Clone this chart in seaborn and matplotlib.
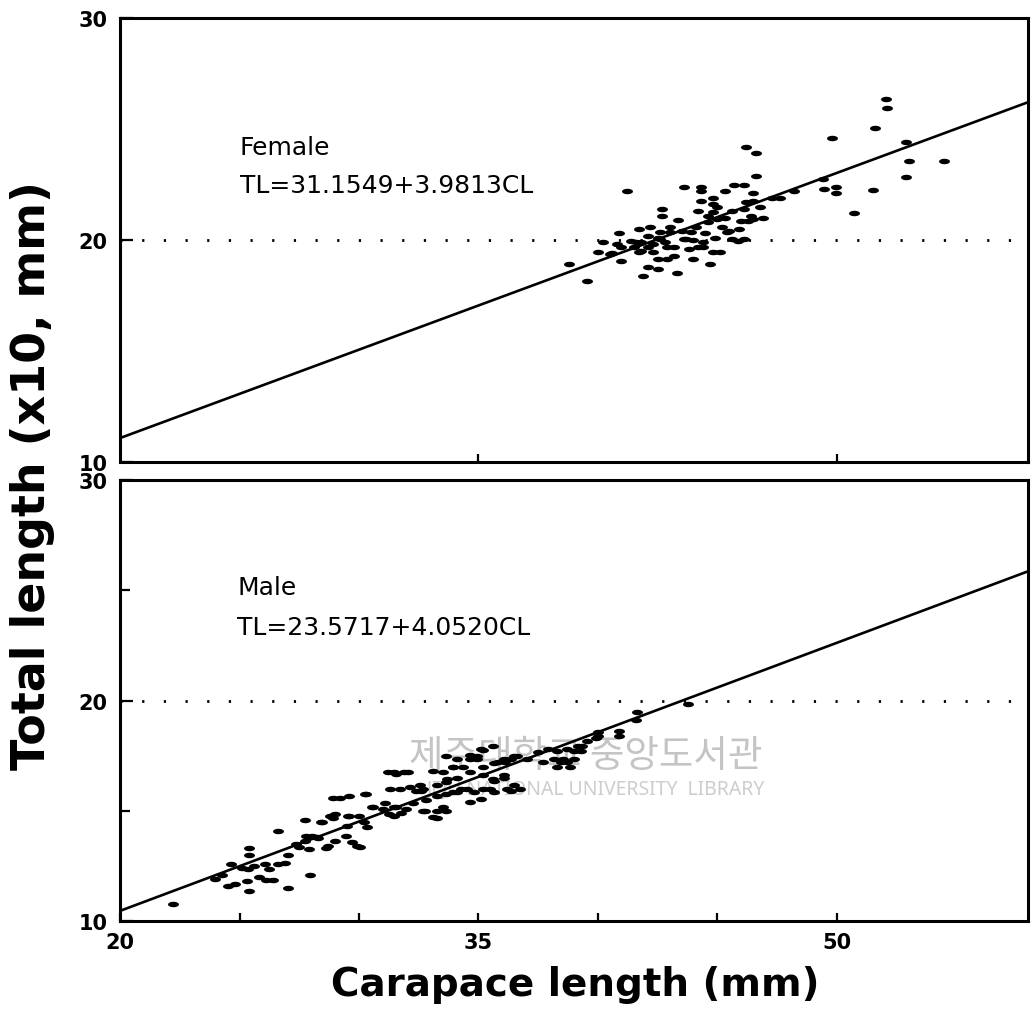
import numpy as np
import pandas as pd
import matplotlib
matplotlib.use("Agg")
import matplotlib.pyplot as plt
import seaborn as sns
from matplotlib.path import Path
from matplotlib.ticker import FixedLocator

# ---------------- data ----------------
female_cl = [52.05, 52.1, 51.6, 49.8, 46.2, 46.6, 52.9, 53.0, 52.9, 54.5,
             46.6, 49.4, 49.45, 49.95, 49.95, 51.5, 50.7, 48.2, 47.6, 41.2,
             43.6, 44.3, 44.3, 44.3, 44.8, 44.8, 45.3, 45.7, 46.1, 46.5,
             46.5, 46.1, 46.4, 46.9, 42.7, 42.7, 43.35, 41.7, 42.2, 42.1,
             42.6, 40.9, 40.8, 40.0, 40.6, 40.95, 38.8, 39.55, 41.6, 42.1,
             41.7, 42.5, 42.9, 42.3, 42.5, 42.9, 42.1, 42.5, 41.9, 43.3,
             43.2, 43.2, 43.7, 44.0, 44.2, 44.4, 44.0, 44.5, 44.4, 44.8,
             44.7, 45.1, 44.8, 45.0, 45.2, 45.4, 45.6, 45.85, 46.1, 45.9,
             46.0, 46.3, 46.5, 45.0, 44.6, 43.9, 43.6, 43.0, 42.6, 42.3,
             41.8, 41.8, 41.4, 40.95, 40.5, 40.2,
             43.0, 43.5, 44.1, 44.6, 45.3, 45.6, 46.2, 44.9, 43.8, 42.8,
             41.5, 46.8, 47.3, 45.5, 44.2]
female_tl = [26.35, 25.95, 25.05, 24.6, 24.2, 23.9, 24.4, 23.55, 22.85, 23.55,
             22.9, 22.75, 22.3, 22.4, 22.1, 22.25, 21.2, 22.2, 21.9, 22.2,
             22.4, 22.4, 22.2, 21.75, 21.9, 21.6, 22.2, 22.5, 22.5, 22.1,
             21.75, 21.4, 21.1, 21.0, 21.4, 21.1, 20.9, 20.5, 20.6, 20.2,
             20.35, 20.3, 19.8, 19.45, 19.4, 19.05, 18.9, 18.15, 19.9, 19.7,
             19.45, 20.1, 19.7, 19.45, 19.15, 19.15, 18.8, 18.7, 18.4, 18.5,
             19.7, 19.3, 20.05, 20.0, 19.7, 19.7, 19.15, 20.3, 19.9, 19.45,
             18.9, 19.45, 21.25, 20.95, 20.6, 20.35, 20.05, 19.95, 20.05, 20.5,
             20.85, 20.85, 20.95, 21.5, 21.1, 20.35, 20.05, 20.35, 20.05, 19.8,
             19.5, 19.9, 19.95, 19.7, 19.35, 19.9,
             20.6, 20.4, 20.6, 20.8, 21.0, 21.3, 21.7, 20.1, 19.6, 19.9,
             19.7, 21.5, 21.9, 20.4, 21.3]

male_cl = [22.2,
           23.96, 24.5, 24.8, 25.4, 25.3, 25.8, 26.1, 26.4, 27.05,
           24.25, 24.65, 25.1, 25.35, 25.6, 26.05, 26.25, 26.6, 26.9,
           25.4, 25.4, 26.6,
           27.05, 27.35, 27.5, 27.75, 27.9, 28.05, 28.3, 27.95,
           27.75, 28.45, 28.9, 29.0, 29.6, 30.0,
           28.9, 29.6, 30.3,
           28.6, 29.0, 29.45, 29.7, 30.05,
           30.55, 31.1, 31.55, 31.25, 31.75, 31.95,
           31.55, 32.05, 32.55, 32.7, 32.4,
           32.25, 32.8, 33.25, 33.65, 34.1,
           32.75, 33.25, 33.65, 33.25,
           33.65, 34.1, 34.35, 34.65, 34.95, 35.2,
           33.25, 33.65, 34.1, 34.65, 35.2, 35.65, 36.05, 36.5,
           34.5, 34.8, 35.2, 35.65, 36.05, 36.5, 36.75,
           35.65, 36.35,
           36.6, 37.05, 37.5, 37.9, 38.3, 38.7, 39.15, 39.55, 40.0,
           37.7, 38.15, 38.45, 39.0, 38.85, 39.3,
           34.65, 35.1, 34.95, 35.6, 35.8, 36.1, 36.35,
           35.2, 35.6, 36.05, 35.5, 36.2, 34.65, 35.1, 33.95, 33.7, 29.2,
           43.75, 41.65, 41.6, 40.9, 40.9, 40.0, 39.9, 39.35, 39.0, 38.55,
           38.3, 38.7,
           31.3, 31.7, 32.15, 32.6, 31.2, 31.45, 31.9, 30.6, 31.0, 31.45,
           31.45, 32.7, 33.1, 33.5, 33.1, 33.5, 33.95, 33.95, 34.25, 29.55,
           30.25, 28.4, 28.8, 29.9, 30.35, 29.5, 30.2, 28.7, 28.25, 27.8]
male_tl = [10.75,
           11.9, 11.6, 11.7, 11.35, 11.8, 12.0, 11.85, 11.85, 11.5,
           12.1, 12.6, 12.4, 12.35, 12.5, 12.6, 12.35, 12.6, 12.65,
           13.3, 13.0, 14.1,
           13.0, 13.5, 13.35, 13.65, 13.25, 13.85, 13.75, 12.1,
           14.6, 14.5, 14.65, 14.85, 14.75, 14.75,
           15.6, 15.65, 15.75,
           13.3, 13.65, 13.85, 13.6, 13.35,
           15.15, 15.35, 15.15, 14.85, 14.9, 15.1,
           16.65, 16.75, 16.15, 16.0, 15.9,
           15.35, 15.5, 15.65, 15.75, 15.85,
           15.0, 15.0, 15.0, 14.65,
           17.5, 17.35, 17.0, 17.35, 17.5, 17.75,
           16.15, 16.3, 16.5, 16.75, 17.0, 17.15, 17.35, 17.5,
           16.0, 15.85, 16.0, 16.35, 16.5, 16.15, 16.0,
           15.85, 15.9,
           17.5, 17.35, 17.65, 17.8, 17.7, 17.8, 17.95, 18.15, 18.4,
           17.2, 17.35, 17.2, 17.35, 17.0, 17.7,
           17.55, 17.8, 17.35, 17.95, 17.2, 17.2, 17.35,
           16.6, 16.45, 16.6, 16.0, 16.0, 15.4, 15.55, 17.0, 16.45, 15.6,
           19.85, 19.5, 19.1, 18.6, 18.4, 18.55, 18.3, 17.95, 17.7, 17.35,
           17.0, 17.2,
           16.0, 16.0, 16.1, 15.9, 16.75, 16.75, 16.75, 15.15, 15.1, 15.15,
           14.75, 15.0, 14.7, 15.15, 16.8, 16.75, 17.0, 15.85, 16.0, 14.75,
           15.75, 14.5, 14.75, 13.4, 14.25, 14.3, 14.5, 13.4, 13.8, 13.85]

female_coef = [31.1549, 3.9813]   # TL(mm) = a + b*CL
male_coef = [23.5717, 4.0520]
female_eq = "TL=31.1549+3.9813CL"
male_eq = "TL=23.5717+4.0520CL"

x_range = [20, 58]
y_range = [10, 30]
x_major = [20, 35, 50]
x_major_labels = ["20", "35", "50"]
x_minor = [25, 30, 40, 45]
top_x_ticks = [35, 50]
y_major = [10, 20, 30]
y_major_labels = ["10", "20", "30"]
y_minor = [15, 25]
ref_level = 20

# ---------------- style ----------------
sns.set_theme(style="ticks")
plt.rcParams["font.family"] = ["DejaVu Sans"]
plt.rcParams["text.color"] = "black"
plt.rcParams["axes.labelcolor"] = "black"
plt.rcParams["xtick.color"] = "black"
plt.rcParams["ytick.color"] = "black"
plt.rcParams["xtick.labelcolor"] = "black"
plt.rcParams["ytick.labelcolor"] = "black"

fig = plt.figure(figsize=(10.34, 10.12), dpi=100)
ax1 = fig.add_axes([0.1161, 0.5425, 0.8781, 0.4387])
ax2 = fig.add_axes([0.1161, 0.0889, 0.8781, 0.4358])

t = np.linspace(0, 2 * np.pi, 41)
ell = Path(np.column_stack([np.cos(t), 0.5 * np.sin(t)]))


def draw_panel(ax, cl, tl, coef):
    df = pd.DataFrame({"CL": cl, "TL": tl})
    sns.scatterplot(data=df, x="CL", y="TL", ax=ax, marker=ell, s=62,
                    color="black", edgecolor="black", linewidth=0, zorder=3)
    xs = np.array(x_range, dtype=float)
    line = pd.DataFrame({"CL": xs, "TL": (coef[0] + coef[1] * xs) / 10.0})
    sns.lineplot(data=line, x="CL", y="TL", ax=ax, color="black",
                 linewidth=1.9, zorder=4)
    ax.axhline(ref_level, color="black", linewidth=2.0,
               linestyle=(0, (0.8, 7.0)), zorder=2)
    ax.set_xlim(*x_range)
    ax.set_ylim(*y_range)
    ax.set_xlabel("")
    ax.set_ylabel("")
    for s in ax.spines.values():
        s.set_visible(True)
        s.set_linewidth(2.2)
        s.set_color("black")
    ax.set_yticks(y_major)
    ax.set_yticklabels(y_major_labels, fontsize=15, fontweight="bold",
                       color="black")
    ax.tick_params(axis="y", which="major", direction="in", length=9,
                   width=1.6, pad=9, colors="black")
    ax.tick_params(axis="y", which="minor", direction="in", length=7,
                   width=1.6, colors="black")
    ax.tick_params(axis="x", which="both", direction="in", length=6,
                   width=1.6, colors="black")
    ax.set_facecolor("white")


draw_panel(ax1, female_cl, female_tl, female_coef)
draw_panel(ax2, male_cl, male_tl, male_coef)

# top panel x ticks: only interior ones, no labels
ax1.set_xticks(top_x_ticks)
ax1.set_xticklabels([])

# bottom panel ticks
ax2.set_xticks(x_major)
ax2.set_xticklabels(x_major_labels, fontsize=15, fontweight="bold",
                    color="black")
ax2.xaxis.set_minor_locator(FixedLocator(x_minor))
ax2.yaxis.set_minor_locator(FixedLocator(y_minor))
ax2.tick_params(axis="x", which="major", pad=8)

# annotations
ax1.text(25.0, 24.2, "Female", fontsize=18, va="center", ha="left",
         color="black")
ax1.text(25.0, 22.5, female_eq, fontsize=18, va="center", ha="left",
         color="black")
ax2.text(24.9, 25.15, "Male", fontsize=18, va="center", ha="left",
         color="black")
ax2.text(24.9, 23.33, male_eq, fontsize=18, va="center", ha="left",
         color="black")

# library watermark
ax2.text(46.9, 17.5, "제주대학교 중앙도서관", family=["Noto Sans CJK KR"],
         fontsize=27, color="#c4c4c4", ha="right", va="center", zorder=1)
ax2.text(47.0, 16.0, "JEJU NATIONAL UNIVERSITY  LIBRARY",
         family=["Noto Sans"], fontsize=14, color="#cdcdcd",
         ha="right", va="center", zorder=1)

# axis titles
fig.text(0.031, 1 - 475 / 1012, "Total length (x10, mm)", rotation=90,
         fontsize=33, fontweight="bold", ha="center", va="center",
         color="black")
fig.text(575 / 1034, 1 - 985 / 1012, "Carapace length (mm)",
         fontsize=28, fontweight="bold", ha="center", va="center",
         color="black")

fig.savefig("out.png", dpi=100, facecolor="white")
